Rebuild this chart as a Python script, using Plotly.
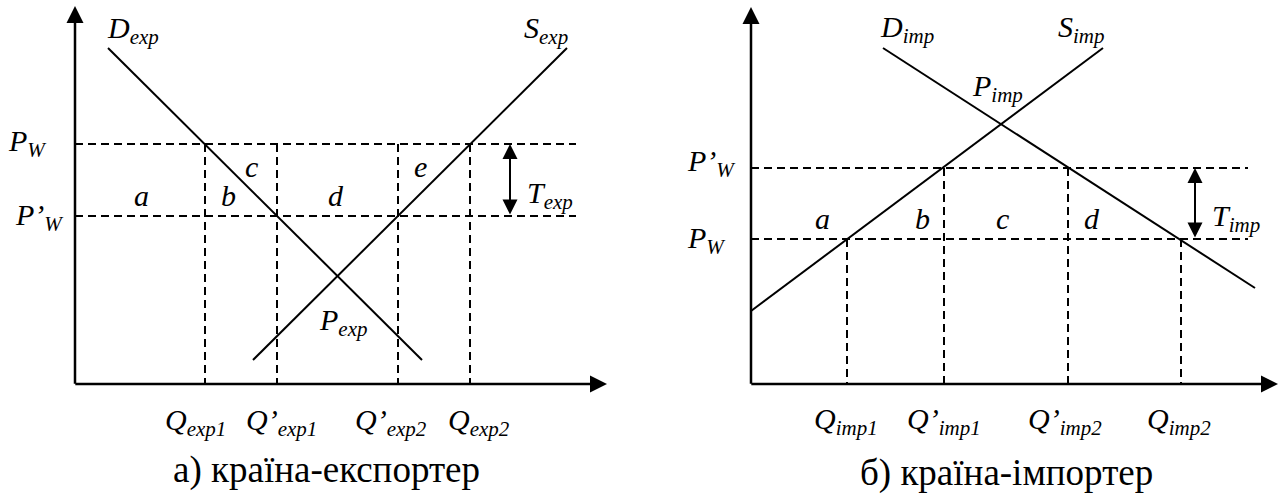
import plotly.graph_objects as go

# ---------------- data (arbitrary price / quantity units) ----------------
# a) exporting country
exp_D_q = [3.3, 34.7]
exp_D_p = [33.6, 2.4]
exp_S_q = [17.8, 49.2]
exp_S_p = [2.4, 33.6]
exp_P_W = 24.0
exp_P_W_new = 16.8
exp_Q = [13.0, 20.2, 32.3, 39.5]
exp_Q_labels = ["Q<sub>exp1</sub>", "Q’<sub>exp1</sub>", "Q’<sub>exp2</sub>", "Q<sub>exp2</sub>"]
exp_areas = ["a", "b", "c", "d", "e"]

# b) importing country
imp_D_q = [13.2, 50.4]
imp_D_p = [33.6, 9.6]
imp_S_q = [0.0, 35.2]
imp_S_p = [7.3, 33.6]
imp_P_W = 14.5
imp_P_W_new = 21.6
imp_Q = [9.6, 19.3, 31.7, 43.0]
imp_Q_labels = ["Q<sub>imp1</sub>", "Q’<sub>imp1</sub>", "Q’<sub>imp2</sub>", "Q<sub>imp2</sub>"]
imp_areas = ["a", "b", "c", "d"]

captions = ["а) країна-експортер", "б) країна-імпортер"]

# ---------------- styling ----------------
FONT = "Liberation Serif, Times New Roman, serif"
LBL = 30
CAP = 37
BLACK = "black"
DASH = "8px,5px"

fig = go.Figure()

def line(xs, ys, ax, dash=None, width=2):
    fig.add_trace(go.Scatter(
        x=xs, y=ys, mode="lines", xaxis=ax[0], yaxis=ax[1],
        line=dict(color=BLACK, width=width, dash=dash),
        hoverinfo="skip", showlegend=False))

annotations = []

def txt(x, y, text, ax, size=LBL, italic=True, xanchor="center"):
    annotations.append(dict(
        x=x, y=y, xref=ax[0], yref=ax[1], text=(f"<i>{text}</i>" if italic else text),
        showarrow=False, xanchor=xanchor, yanchor="middle",
        font=dict(family=FONT, size=size, color=BLACK)))

def arrow(x0, y0, x1, y1, ax, width, size, both=False):
    annotations.append(dict(
        x=x1, y=y1, ax=x0, ay=y0, xref=ax[0], yref=ax[1], axref=ax[0], ayref=ax[1],
        text="", showarrow=True, arrowhead=2, arrowsize=size, arrowwidth=width,
        arrowcolor=BLACK, standoff=0, startstandoff=0,
        arrowside="end+start" if both else "end", startarrowhead=2, startarrowsize=size))

# ---------------- panel a ----------------
A = ("x", "y")
XMAX_A, YMAX_A = 53.2, 37.8
HEND_A = 50.1
for p in (exp_P_W, exp_P_W_new):
    line([0, HEND_A], [p, p], A, dash=DASH)
for q in exp_Q:
    line([q, q], [exp_P_W, 0], A, dash=DASH)
line(exp_D_q, exp_D_p, A)
line(exp_S_q, exp_S_p, A)
arrow(-0.12, 0, XMAX_A, 0, A, 2.5, 1.36)
arrow(0, -0.12, 0, YMAX_A, A, 2.5, 1.36)
arrow(43.5, exp_P_W_new, 43.5, exp_P_W, A, 2, 1.5, both=True)

txt(exp_D_q[0] - 0.3, 35.4, "D<sub>exp</sub>", A, xanchor="left")
txt(47.05, 35.4, "S<sub>exp</sub>", A)
txt(-4.75, exp_P_W + 0.1, "P<sub>W</sub>", A)
txt(-3.6, exp_P_W_new - 0.1, "P’<sub>W</sub>", A)
for lab, qx, py in zip(exp_areas, [6.65, 15.3, 17.6, 26.1, 34.5], [18.9, 18.9, 21.8, 18.9, 21.8]):
    txt(qx, py, lab, A)
txt(47.45, 18.9, "T<sub>exp</sub>", A)
txt(26.75, 6.2, "P<sub>exp</sub>", A)
for lab, qx in zip(exp_Q_labels, [12.0, 20.6, 31.6, 40.4]):
    txt(qx, -3.8, lab, A)
txt(25.1, -8.6, captions[0], A, size=CAP, italic=False)

# ---------------- panel b ----------------
B = ("x2", "y2")
XMAX_B, YMAX_B = 52.7, 37.7
HEND_B = 49.7
for p in (imp_P_W, imp_P_W_new):
    line([0, HEND_B], [p, p], B, dash=DASH)
for q, top in zip(imp_Q, [imp_P_W, imp_P_W_new, imp_P_W_new, imp_P_W]):
    line([q, q], [top, 0], B, dash=DASH)
line(imp_D_q, imp_D_p, B)
line(imp_S_q, imp_S_p, B)
arrow(-0.12, 0, XMAX_B, 0, B, 2.5, 1.36)
arrow(0, -0.12, 0, YMAX_B, B, 2.5, 1.36)
arrow(44.4, imp_P_W, 44.4, imp_P_W_new, B, 2, 1.5, both=True)

txt(15.6, 35.5, "D<sub>imp</sub>", B)
txt(33.0, 35.5, "S<sub>imp</sub>", B)
txt(24.65, 29.6, "P<sub>imp</sub>", B)
txt(-4.0, imp_P_W_new + 0.5, "P’<sub>W</sub>", B)
txt(-4.5, imp_P_W - 0.1, "P<sub>W</sub>", B)
for lab, qx in zip(imp_areas, [7.1, 17.1, 25.1, 34.1]):
    txt(qx, 16.6, lab, B)
txt(48.5, 16.6, "T<sub>imp</sub>", B)
for lab, qx in zip(imp_Q_labels, [9.5, 19.3, 31.4, 42.8]):
    txt(qx, -3.7, lab, B)
txt(25.5, -8.9, captions[1], B, size=CAP, italic=False)

H = 494
W = 1280
# 1 unit = 10 px in both panels; origin of both panels at y = 384 px
hidden = dict(visible=False, showgrid=False, zeroline=False, fixedrange=True)
fig.update_layout(
    width=W, height=H, autosize=False,
    margin=dict(l=0, r=0, t=0, b=0, pad=0),
    paper_bgcolor="white", plot_bgcolor="white",
    showlegend=False, hovermode=False,
    xaxis=dict(domain=[0, 0.5], range=[-7.5, 56.5], anchor="y", **hidden),
    yaxis=dict(domain=[0, 1], range=[-11.0, 38.4], anchor="x", **hidden),
    xaxis2=dict(domain=[0.5, 1], range=[-11.1, 52.9], anchor="y2", **hidden),
    yaxis2=dict(domain=[0, 1], range=[-11.0, 38.4], anchor="x2", **hidden),
    annotations=annotations,
)

fig.write_html("out.html", config={"displayModeBar": False, "staticPlot": True},
               post_script="document.body.style.margin='0';")
